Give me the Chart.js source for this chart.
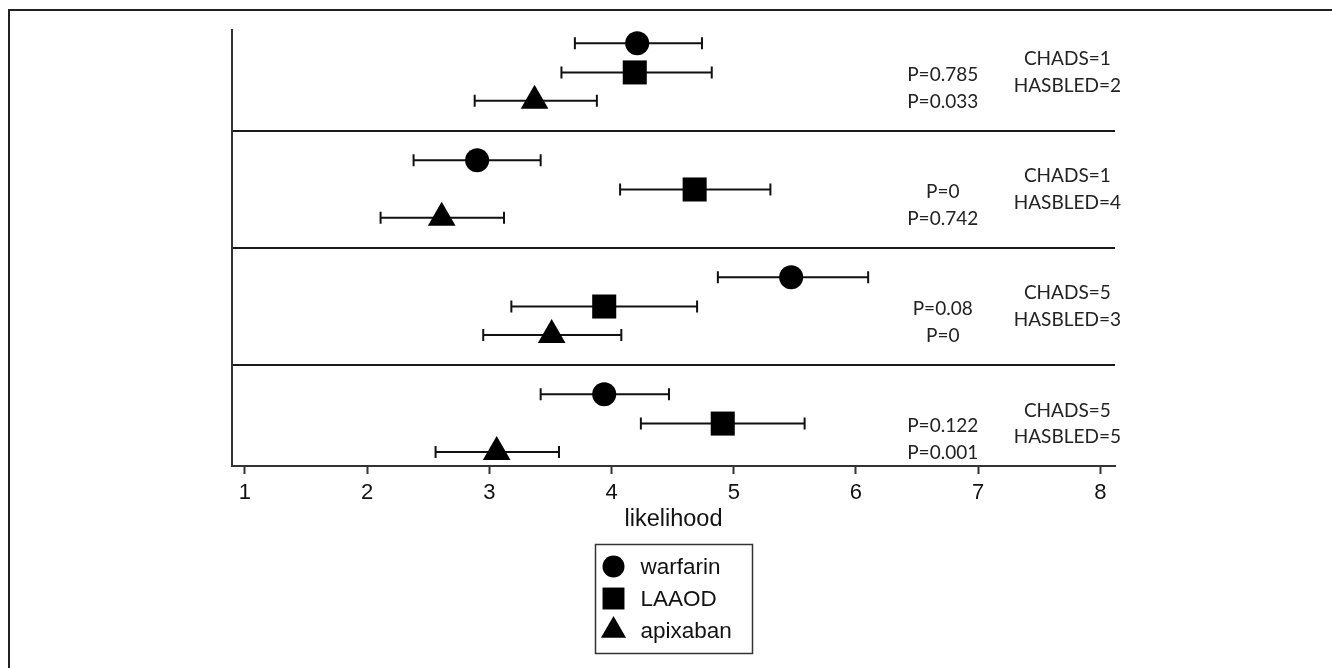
<!DOCTYPE html>
<html><head><meta charset="utf-8">
<script src="https://cdn.jsdelivr.net/npm/chart.js@4.4.1/dist/chart.umd.min.js"></script>
<style>html,body{margin:0;padding:0;background:#fff;} #wrap{width:1332px;height:668px;}</style>
</head><body>
<div id="wrap"><canvas id="c" width="1332" height="668"></canvas></div>
<script>
// ---- data ----
const panelChads   = ['CHADS=1', 'CHADS=1', 'CHADS=5', 'CHADS=5'];
const panelHasbled = ['HASBLED=2', 'HASBLED=4', 'HASBLED=3', 'HASBLED=5'];
const pLaaod       = ['P=0.785', 'P=0', 'P=0.08', 'P=0.122'];
const pApixaban    = ['P=0.033', 'P=0.742', 'P=0', 'P=0.001'];
const seriesNames  = ['warfarin', 'LAAOD', 'apixaban'];

const warfarinMean = [4.21, 2.90, 5.47, 3.94];
const warfarinLow  = [3.70, 2.38, 4.87, 3.42];
const warfarinHigh = [4.74, 3.42, 6.10, 4.47];

const laaodMean = [4.19, 4.68, 3.94, 4.91];
const laaodLow  = [3.59, 4.07, 3.18, 4.24];
const laaodHigh = [4.82, 5.30, 4.70, 5.58];

const apixabanMean = [3.37, 2.61, 3.51, 3.06];
const apixabanLow  = [2.88, 2.11, 2.95, 2.56];
const apixabanHigh = [3.88, 3.12, 4.08, 3.57];

const xTickValues = [1, 2, 3, 4, 5, 6, 7, 8];
const xTitle = 'likelihood';

// ---- layout constants ----
const PANEL = 4;
const rowOffset = [1, 2, 2.97];
const INK = '#111';

function points(mean, lo, hi, off) {
  return mean.map((m, i) => ({ x: m, y: i * PANEL + off, lo: lo[i], hi: hi[i] }));
}

const styles = [
  { pointStyle: 'circle', radius: 12, legendRadius: 11 },
  { pointStyle: 'rect', radius: 17, legendRadius: 15.5 },
  { pointStyle: 'triangle', radius: 16, legendRadius: 14.5 }
];
const means = [warfarinMean, laaodMean, apixabanMean];
const lows = [warfarinLow, laaodLow, apixabanLow];
const highs = [warfarinHigh, laaodHigh, apixabanHigh];

const datasets = seriesNames.map((name, s) => ({
  label: name,
  data: points(means[s], lows[s], highs[s], rowOffset[s]),
  pointStyle: styles[s].pointStyle,
  pointRadius: styles[s].radius,
  legendRadius: styles[s].legendRadius,
  pointBackgroundColor: '#000',
  pointBorderWidth: 0,
  showLine: false
}));

function drawShape(ctx, style, r, x, y) {
  ctx.beginPath();
  if (style === 'circle') {
    ctx.arc(x, y, r, 0, Math.PI * 2);
  } else if (style === 'rect') {
    const s = Math.SQRT1_2 * r;
    ctx.rect(x - s, y - s, 2 * s, 2 * s);
  } else {
    ctx.moveTo(x, y - r);
    ctx.lineTo(x + r * Math.sin(2 * Math.PI / 3), y + r * 0.5);
    ctx.lineTo(x - r * Math.sin(2 * Math.PI / 3), y + r * 0.5);
    ctx.closePath();
  }
  ctx.fill();
}

const framePlugin = {
  id: 'frame',
  beforeDraw(chart) {
    const ctx = chart.ctx;
    ctx.save();
    ctx.strokeStyle = '#222';
    ctx.lineWidth = 2;
    ctx.beginPath();
    ctx.moveTo(9, 668); ctx.lineTo(9, 10); ctx.lineTo(1332, 10);
    ctx.stroke();
    ctx.restore();
  }
};

const errorBarPlugin = {
  id: 'errorBars',
  beforeDatasetsDraw(chart) {
    const { ctx, scales: { x, y } } = chart;
    ctx.save();
    ctx.strokeStyle = INK;
    ctx.lineWidth = 2;
    chart.data.datasets.forEach(ds => {
      ds.data.forEach(p => {
        const yp = y.getPixelForValue(p.y);
        const x1 = x.getPixelForValue(p.lo);
        const x2 = x.getPixelForValue(p.hi);
        ctx.beginPath();
        ctx.moveTo(x1, yp); ctx.lineTo(x2, yp);
        ctx.moveTo(x1, yp - 6); ctx.lineTo(x1, yp + 6);
        ctx.moveTo(x2, yp - 6); ctx.lineTo(x2, yp + 6);
        ctx.stroke();
      });
    });
    ctx.restore();
  }
};

const annotationPlugin = {
  id: 'annotations',
  afterDatasetsDraw(chart) {
    const { ctx, scales: { x, y } } = chart;
    ctx.save();
    ctx.fillStyle = '#222';
    ctx.font = '19px Lato, "Open Sans", sans-serif';
    ctx.textAlign = 'center';
    ctx.textBaseline = 'middle';
    const px = x.getPixelForValue(6.71);
    const cx = x.getPixelForValue(7.73);
    for (let i = 0; i < panelChads.length; i++) {
      const base = i * PANEL;
      ctx.fillText(pLaaod[i], px, y.getPixelForValue(base + 2.08));
      ctx.fillText(pApixaban[i], px, y.getPixelForValue(base + 3.0));
      ctx.fillText(panelChads[i], cx, y.getPixelForValue(base + 1.55));
      ctx.fillText(panelHasbled[i], cx, y.getPixelForValue(base + 2.47));
    }
    ctx.restore();
  }
};

const boxLegendPlugin = {
  id: 'boxLegend',
  afterDraw(chart) {
    const { ctx, chartArea: ca } = chart;
    const bw = 157, bh = 109;
    const bx = Math.round((ca.left + ca.right) / 2 - bw / 2) + 0.5;
    const by = Math.round(ca.bottom + 78) + 0.5;
    ctx.save();
    ctx.strokeStyle = '#333';
    ctx.lineWidth = 1.5;
    ctx.strokeRect(bx, by, bw, bh);
    ctx.font = '22.5px "Liberation Sans", Arial, sans-serif';
    ctx.textBaseline = 'middle';
    ctx.textAlign = 'left';
    chart.data.datasets.forEach((ds, i) => {
      const ry = by + 22 + i * 32;
      ctx.fillStyle = '#000';
      drawShape(ctx, ds.pointStyle, ds.legendRadius, bx + 18, ry);
      ctx.fillStyle = '#111';
      ctx.fillText(ds.label, bx + 45, ry + 1);
    });
    ctx.restore();
  }
};

new Chart(document.getElementById('c'), {
  type: 'scatter',
  data: { datasets },
  options: {
    responsive: false,
    devicePixelRatio: 1,
    animation: false,
    events: [],
    layout: { padding: { left: 232, right: 217, top: 30, bottom: 134 } },
    plugins: { legend: { display: false }, tooltip: { enabled: false } },
    scales: {
      x: {
        type: 'linear',
        position: 'bottom',
        min: 0.894,
        max: 8.12,
        afterBuildTicks: s => { s.ticks = xTickValues.map(v => ({ value: v })); },
        afterFit: s => { s.height = 68; },
        grid: { display: true, drawOnChartArea: false, drawTicks: true, tickLength: 8, tickColor: '#333', tickWidth: 2 },
        border: { display: true, color: '#333', width: 2 },
        ticks: { color: INK, padding: 6, font: { family: '"Liberation Sans", Arial, sans-serif', size: 22 } },
        title: { display: true, text: xTitle, color: INK, padding: 0, font: { family: '"Liberation Sans", Arial, sans-serif', size: 23.5 } }
      },
      y: {
        type: 'linear',
        reverse: true,
        min: 0.55,
        max: 15.45,
        afterBuildTicks: s => { s.ticks = [1, 2, 3].map(k => ({ value: k * PANEL })); },
        afterFit: s => { s.width = 0; },
        grid: { display: true, drawTicks: false, color: '#1a1a1a', lineWidth: 2 },
        border: { display: true, color: '#333', width: 2 },
        ticks: { display: false }
      }
    }
  },
  plugins: [framePlugin, errorBarPlugin, annotationPlugin, boxLegendPlugin]
});
</script>
</body></html>
